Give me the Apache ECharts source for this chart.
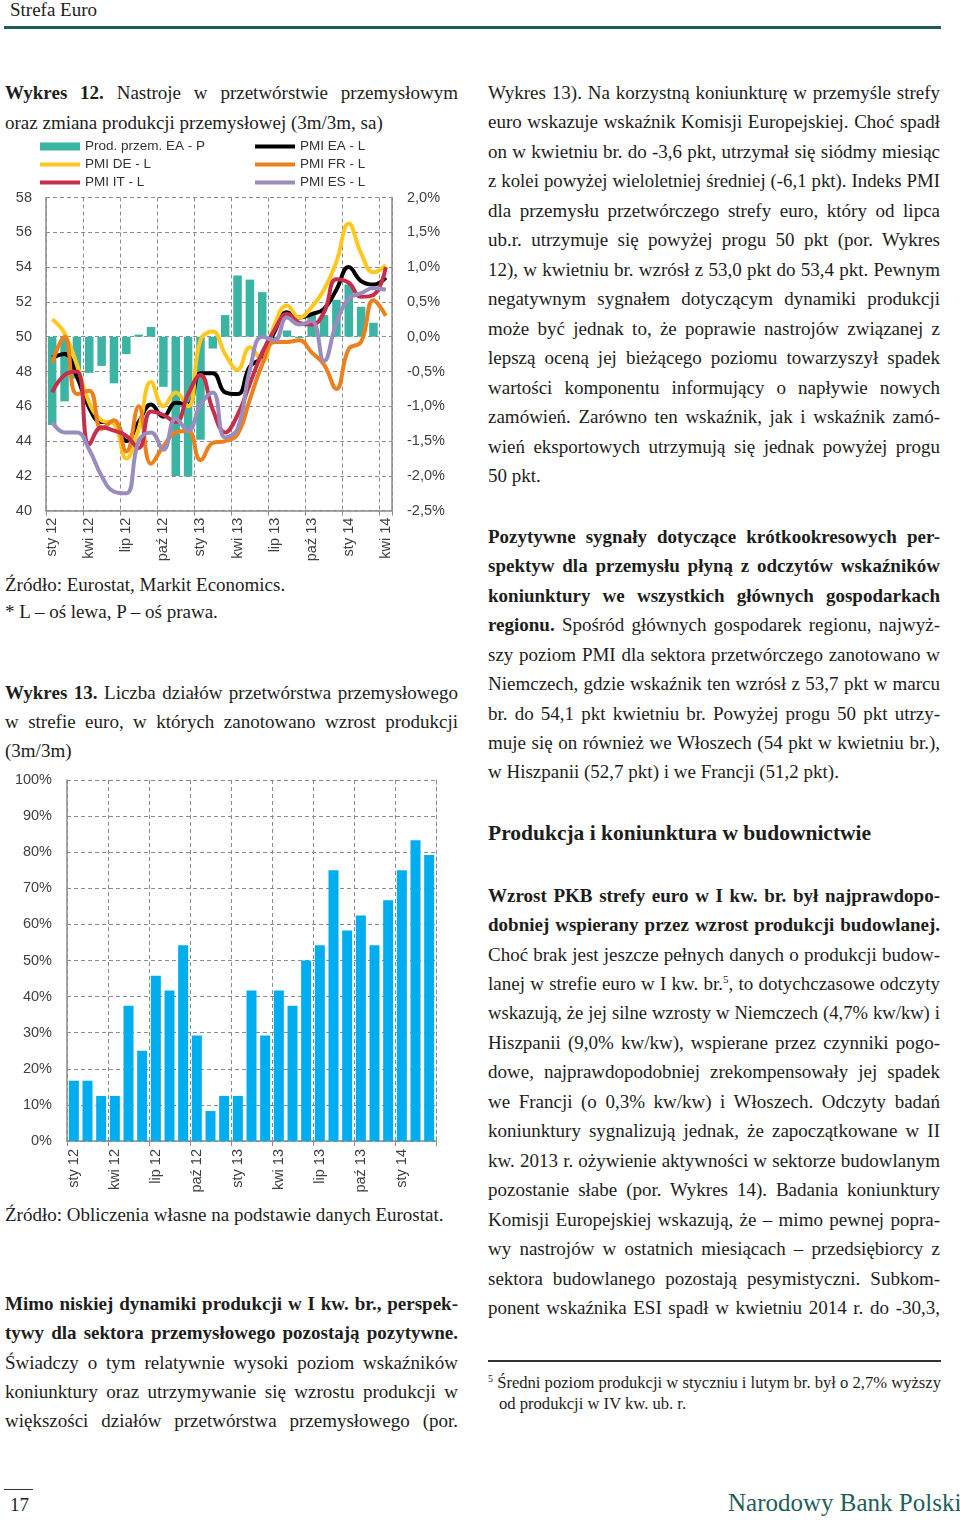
<!DOCTYPE html>
<html><head><meta charset="utf-8">
<script src="https://cdn.jsdelivr.net/npm/echarts@6/dist/echarts.min.js"></script>
<style>
html,body{margin:0;padding:0;background:#fff;}
#page{position:relative;width:960px;height:1522px;overflow:hidden;font-family:'Liberation Serif',serif;color:#1d1d1b;}
.ln{position:absolute;height:24px;line-height:24px;font-size:19px;white-space:nowrap;}
.L{left:5px;width:453px;}
.R{left:488px;width:452px;}
.j{text-align:justify;text-align-last:justify;}
b{font-weight:bold;}
sup{font-size:11px;line-height:0;vertical-align:7px;}
</style></head>
<body><div id="page">
<div class="ln" style="left:10px;top:-2px;font-size:19px;">Strefa Euro</div>
<div style="position:absolute;left:4px;top:26px;width:937px;height:3px;background:#1f5a55;"></div>

<div class="ln L j" style="top:81px"><b>Wykres 12.</b> Nastroje w przetwórstwie przemysłowym</div>
<div class="ln L" style="top:111px">oraz zmiana produkcji przemysłowej (3m/3m, sa)</div>
<div id="c1" style="position:absolute;left:0;top:135px;width:460px;height:430px;"></div>
<div class="ln L" style="top:573px">Źródło: Eurostat, Markit Economics.</div>
<div class="ln L" style="top:600px">* L – oś lewa, P – oś prawa.</div>
<div class="ln L j" style="top:681px"><b>Wykres 13.</b> Liczba działów przetwórstwa przemysłowego</div>
<div class="ln L j" style="top:710px">w strefie euro, w których zanotowano wzrost produkcji</div>
<div class="ln L" style="top:739px">(3m/3m)</div>
<div id="c2" style="position:absolute;left:0;top:765px;width:460px;height:435px;"></div>
<div class="ln L" style="top:1203px">Źródło: Obliczenia własne na podstawie danych Eurostat.</div>
<div class="ln L j" style="top:1292px"><b>Mimo niskiej dynamiki produkcji w I kw. br., perspek-</b></div>
<div class="ln L j" style="top:1321px"><b>tywy dla sektora przemysłowego pozostają pozytywne.</b></div>
<div class="ln L j" style="top:1351px">Świadczy o tym relatywnie wysoki poziom wskaźników</div>
<div class="ln L j" style="top:1380px">koniunktury oraz utrzymywanie się wzrostu produkcji w</div>
<div class="ln L j" style="top:1409px">większości działów przetwórstwa przemysłowego (por.</div>

<div class="ln R j" style="top:81px">Wykres 13). Na korzystną koniunkturę w przemyśle strefy</div>
<div class="ln R j" style="top:110px">euro wskazuje wskaźnik Komisji Europejskiej. Choć spadł</div>
<div class="ln R j" style="top:140px">on w kwietniu br. do -3,6 pkt, utrzymał się siódmy miesiąc</div>
<div class="ln R j" style="top:169px">z kolei powyżej wieloletniej średniej (-6,1 pkt). Indeks PMI</div>
<div class="ln R j" style="top:199px">dla przemysłu przetwórczego strefy euro, który od lipca</div>
<div class="ln R j" style="top:228px">ub.r. utrzymuje się powyżej progu 50 pkt (por. Wykres</div>
<div class="ln R j" style="top:258px">12), w kwietniu br. wzrósł z 53,0 pkt do 53,4 pkt. Pewnym</div>
<div class="ln R j" style="top:287px">negatywnym sygnałem dotyczącym dynamiki produkcji</div>
<div class="ln R j" style="top:317px">może być jednak to, że poprawie nastrojów związanej z</div>
<div class="ln R j" style="top:346px">lepszą oceną jej bieżącego poziomu towarzyszył spadek</div>
<div class="ln R j" style="top:376px">wartości komponentu informujący o napływie nowych</div>
<div class="ln R j" style="top:405px">zamówień. Zarówno ten wskaźnik, jak i wskaźnik zamó-</div>
<div class="ln R j" style="top:435px">wień eksportowych utrzymują się jednak powyżej progu</div>
<div class="ln R" style="top:464px">50 pkt.</div>

<div class="ln R j" style="top:525px"><b>Pozytywne sygnały dotyczące krótkookresowych per-</b></div>
<div class="ln R j" style="top:554px"><b>spektyw dla przemysłu płyną z odczytów wskaźników</b></div>
<div class="ln R j" style="top:584px"><b>koniunktury we wszystkich głównych gospodarkach</b></div>
<div class="ln R j" style="top:613px"><b>regionu.</b> Spośród głównych gospodarek regionu, najwyż-</div>
<div class="ln R j" style="top:643px">szy poziom PMI dla sektora przetwórczego zanotowano w</div>
<div class="ln R j" style="top:672px">Niemczech, gdzie wskaźnik ten wzrósł z 53,7 pkt w marcu</div>
<div class="ln R j" style="top:702px">br. do 54,1 pkt kwietniu br. Powyżej progu 50 pkt utrzy-</div>
<div class="ln R j" style="top:731px">muje się on również we Włoszech (54 pkt w kwietniu br.),</div>
<div class="ln R" style="top:760px">w Hiszpanii (52,7 pkt) i we Francji (51,2 pkt).</div>

<div class="ln R" style="top:821px;font-size:21.5px;"><b>Produkcja i koniunktura w budownictwie</b></div>

<div class="ln R j" style="top:884px"><b>Wzrost PKB strefy euro w I kw. br. był najprawdopo-</b></div>
<div class="ln R j" style="top:913px"><b>dobniej wspierany przez wzrost produkcji budowlanej.</b></div>
<div class="ln R j" style="top:943px">Choć brak jest jeszcze pełnych danych o produkcji budow-</div>
<div class="ln R j" style="top:972px">lanej w strefie euro w I kw. br.<sup>5</sup>, to dotychczasowe odczyty</div>
<div class="ln R j" style="top:1001px">wskazują, że jej silne wzrosty w Niemczech (4,7% kw/kw) i</div>
<div class="ln R j" style="top:1031px">Hiszpanii (9,0% kw/kw), wspierane przez czynniki pogo-</div>
<div class="ln R j" style="top:1060px">dowe, najprawdopodobniej zrekompensowały jej spadek</div>
<div class="ln R j" style="top:1090px">we Francji (o 0,3% kw/kw) i Włoszech. Odczyty badań</div>
<div class="ln R j" style="top:1119px">koniunktury sygnalizują jednak, że zapoczątkowane w II</div>
<div class="ln R j" style="top:1149px">kw. 2013 r. ożywienie aktywności w sektorze budowlanym</div>
<div class="ln R j" style="top:1178px">pozostanie słabe (por. Wykres 14). Badania koniunktury</div>
<div class="ln R j" style="top:1208px">Komisji Europejskiej wskazują, że – mimo pewnej popra-</div>
<div class="ln R j" style="top:1237px">wy nastrojów w ostatnich miesiącach – przedsiębiorcy z</div>
<div class="ln R j" style="top:1267px">sektora budowlanego pozostają pesymistyczni. Subkom-</div>
<div class="ln R j" style="top:1296px">ponent wskaźnika ESI spadł w kwietniu 2014 r. do -30,3,</div>

<div style="position:absolute;left:488px;top:1360px;width:453px;height:2px;background:#333;"></div>
<div class="ln" style="left:488px;top:1371px;width:455px;font-size:16.6px;"><sup style="font-size:10px;vertical-align:6px;">5</sup> Średni poziom produkcji w styczniu i lutym br. był o 2,7% wyższy</div>
<div class="ln" style="left:499px;top:1392px;font-size:16.6px;">od produkcji w IV kw. ub. r.</div>

<div style="position:absolute;left:4px;top:1489px;width:29px;height:1px;background:#333;"></div>
<div class="ln" style="left:10px;top:1493px;font-size:19px;">17</div>
<div class="ln" style="left:728px;top:1491px;font-size:25px;color:#1e5f57;">Narodowy Bank Polski</div>
</div>
<script>
// ---------- DATA ----------
const categories1 = ['sty 12','lut 12','mar 12','kwi 12','maj 12','cze 12','lip 12','sie 12','wrz 12','paź 12','lis 12','gru 12',
  'sty 13','lut 13','mar 13','kwi 13','maj 13','cze 13','lip 13','sie 13','wrz 13','paź 13','lis 13','gru 13',
  'sty 14','lut 14','mar 14','kwi 14'];
const prodEA = [-1.27,-0.93,-0.6,-0.52,-0.42,-0.67,-0.25,0.03,0.14,-0.72,-2.0,-2.01,
  -1.48,-0.17,0.31,0.88,0.82,0.64,-0.05,0.09,-0.02,0.31,0.31,0.53,0.75,0.43,0.2,null];
const pmiEA = [48.8,49.0,47.7,45.9,45.1,45.1,44.0,45.1,46.1,45.4,46.2,46.1,
  47.9,47.9,46.8,46.7,48.3,48.8,50.3,51.4,51.1,51.3,51.6,52.7,54.0,53.2,53.0,53.4];
const pmiDE = [51.0,50.2,48.4,46.2,45.2,45.0,43.0,44.7,47.4,46.0,46.8,46.0,
  49.8,50.3,49.0,48.1,49.4,48.6,50.7,51.8,51.1,51.7,52.7,54.3,56.5,54.8,53.7,54.1];
const pmiFR = [48.5,50.0,46.7,46.9,44.7,45.2,43.4,46.0,42.7,43.7,44.5,44.6,
  42.9,43.9,44.0,44.4,46.4,48.4,49.7,49.7,49.8,49.1,48.4,47.0,49.3,49.7,52.1,51.2];
const pmiIT = [46.8,47.8,48.0,43.8,44.8,44.6,44.3,43.6,45.7,45.5,45.1,46.7,
  47.8,45.8,44.5,45.5,47.3,49.1,50.4,51.3,50.8,50.7,51.4,53.3,53.1,52.3,52.4,54.0];
const pmiES = [45.1,44.5,44.5,43.5,42.0,41.1,41.0,44.0,44.5,43.5,45.3,44.6,
  46.1,46.8,44.2,44.7,48.1,50.0,49.8,51.1,50.7,50.9,48.6,50.8,52.2,52.5,52.8,52.7];

const categories2 = ['sty 12','lut 12','mar 12','kwi 12','maj 12','cze 12','lip 12','sie 12','wrz 12','paź 12','lis 12','gru 12',
  'sty 13','lut 13','mar 13','kwi 13','maj 13','cze 13','lip 13','sie 13','wrz 13','paź 13','lis 13','gru 13',
  'sty 14','lut 14','mar 14'];
const sharePct = [16.7,16.7,12.5,12.5,37.5,25.0,45.8,41.7,54.2,29.2,8.3,12.5,
  12.5,41.7,29.2,41.7,37.5,50.0,54.2,75.0,58.3,62.5,54.2,66.7,75.0,83.3,79.2];

const leftTicks1 = {min:40, max:58, interval:2};
const rightTicks1 = {min:-2.5, max:2.0, interval:0.5};
const ticks2 = {min:0, max:100, interval:10};

// ---------- text fitting ----------
document.querySelectorAll('.ln').forEach(el=>{
  let fs = parseFloat(getComputedStyle(el).fontSize);
  let guard = 0;
  while (el.scrollWidth > el.clientWidth + 0.5 && guard < 40 && el.clientWidth>0) {
    fs -= 0.2; el.style.fontSize = fs + 'px'; guard++;
  }
});

// ---------- fonts ----------
function hasFont(name){
  const c=document.createElement('canvas').getContext('2d');
  const s='abcdefghijklmnopqrstuvwxyz 0123456789%';
  c.font='40px monospace'; const a=c.measureText(s).width;
  c.font="40px '"+name+"', monospace"; const b=c.measureText(s).width;
  return Math.abs(a-b)>0.5;
}
const narrow = hasFont('Liberation Sans Narrow');
const AXF = narrow ? 'Liberation Sans Narrow' : 'Liberation Sans';
const AXS = narrow ? 16 : 14.5;
const LGS = narrow ? 15.5 : 13.5;

const GRID = '#8c8c8c';
const dash = {type:[4,3], color:GRID, width:1};
const lineIcon = 'path://M0,0h40v4h-40z';

// ---------- chart 1 ----------
const c1 = echarts.init(document.getElementById('c1'), null, {renderer:'canvas'});
function lineSeries(name, data, color){
  return {name, type:'line', data, yAxisIndex:0, smooth:0.45, showSymbol:false, symbol:'none',
    color, lineStyle:{color, width:4}, z:3};
}
const legendText = {fontFamily:AXF, fontSize:LGS, color:'#333', lineHeight:15};
c1.setOption({
  animation:false,
  textStyle:{fontFamily:AXF},
  legend:[
    {left:40, top:4, padding:0, orient:'vertical', itemWidth:40, itemHeight:8, itemGap:3, selectedMode:false,
     textStyle:legendText,
     data:[{name:'Prod. przem. EA - P', icon:'rect'},{name:'PMI DE - L', icon:lineIcon},{name:'PMI IT - L', icon:lineIcon}]},
    {left:255, top:4, padding:0, orient:'vertical', itemWidth:40, itemHeight:8, itemGap:3, selectedMode:false,
     textStyle:legendText,
     data:[{name:'PMI EA - L', icon:lineIcon},{name:'PMI FR - L', icon:lineIcon},{name:'PMI ES - L', icon:lineIcon}]}
  ],
  grid:{left:46, right:68, top:62.5, bottom:54.3},
  xAxis:{type:'category', data:categories1, boundaryGap:true,
    axisLine:{onZero:false, lineStyle:{color:GRID, width:1.5}},
    axisTick:{show:true, interval:2, length:5, lineStyle:{color:GRID}},
    axisLabel:{interval:2, rotate:90, margin:7, fontSize:AXS, color:'#404040', fontFamily:AXF},
    splitLine:{show:true, interval:2, lineStyle:dash}},
  yAxis:[
    {type:'value', position:'left', min:leftTicks1.min, max:leftTicks1.max, interval:leftTicks1.interval,
     axisLine:{show:true, lineStyle:{color:GRID, width:1.5}}, axisTick:{show:false},
     axisLabel:{margin:14, fontSize:AXS, color:'#404040', fontFamily:AXF},
     splitLine:{show:true, lineStyle:dash}},
    {type:'value', position:'right', min:rightTicks1.min, max:rightTicks1.max, interval:rightTicks1.interval,
     axisLine:{show:true, lineStyle:{color:GRID, width:1.5}}, axisTick:{show:false},
     axisLabel:{margin:15, fontSize:AXS, color:'#404040', fontFamily:AXF,
       formatter:v=>v.toFixed(1).replace('.',',')+'%'},
     splitLine:{show:false}}
  ],
  series:[
    {name:'Prod. przem. EA - P', type:'bar', data:prodEA, yAxisIndex:1, barWidth:8.5, color:'#3cb4a4', itemStyle:{color:'#3cb4a4'}, z:2},
    lineSeries('PMI EA - L', pmiEA, '#000000'),
    lineSeries('PMI DE - L', pmiDE, '#ffc820'),
    lineSeries('PMI FR - L', pmiFR, '#ec801c'),
    lineSeries('PMI IT - L', pmiIT, '#c62f4c'),
    lineSeries('PMI ES - L', pmiES, '#9b8cbe')
  ]
});

// ---------- chart 2 ----------
const c2 = echarts.init(document.getElementById('c2'), null, {renderer:'canvas'});
c2.setOption({
  animation:false,
  textStyle:{fontFamily:AXF},
  grid:{left:67, right:24, top:15, bottom:59},
  xAxis:{type:'category', data:categories2, boundaryGap:true,
    axisLine:{onZero:false, lineStyle:{color:GRID, width:1.5}},
    axisTick:{show:true, interval:2, length:5, lineStyle:{color:GRID}},
    axisLabel:{interval:2, rotate:90, margin:8, fontSize:AXS, color:'#404040', fontFamily:AXF},
    splitLine:{show:true, interval:2, lineStyle:dash}},
  yAxis:[
    {type:'value', min:ticks2.min, max:ticks2.max, interval:ticks2.interval,
     axisLine:{show:true, lineStyle:{color:GRID, width:1.5}}, axisTick:{show:false},
     axisLabel:{margin:15, fontSize:AXS, color:'#404040', fontFamily:AXF, formatter:'{value}%'},
     splitLine:{show:true, lineStyle:dash}},
    {type:'value', position:'right', min:ticks2.min, max:ticks2.max, interval:ticks2.interval,
     axisLine:{show:true, lineStyle:dash}, axisTick:{show:false}, axisLabel:{show:false}, splitLine:{show:false}}
  ],
  series:[{type:'bar', data:sharePct, barWidth:10, itemStyle:{color:'#00aeef'}}]
});
</script>
</body></html>
